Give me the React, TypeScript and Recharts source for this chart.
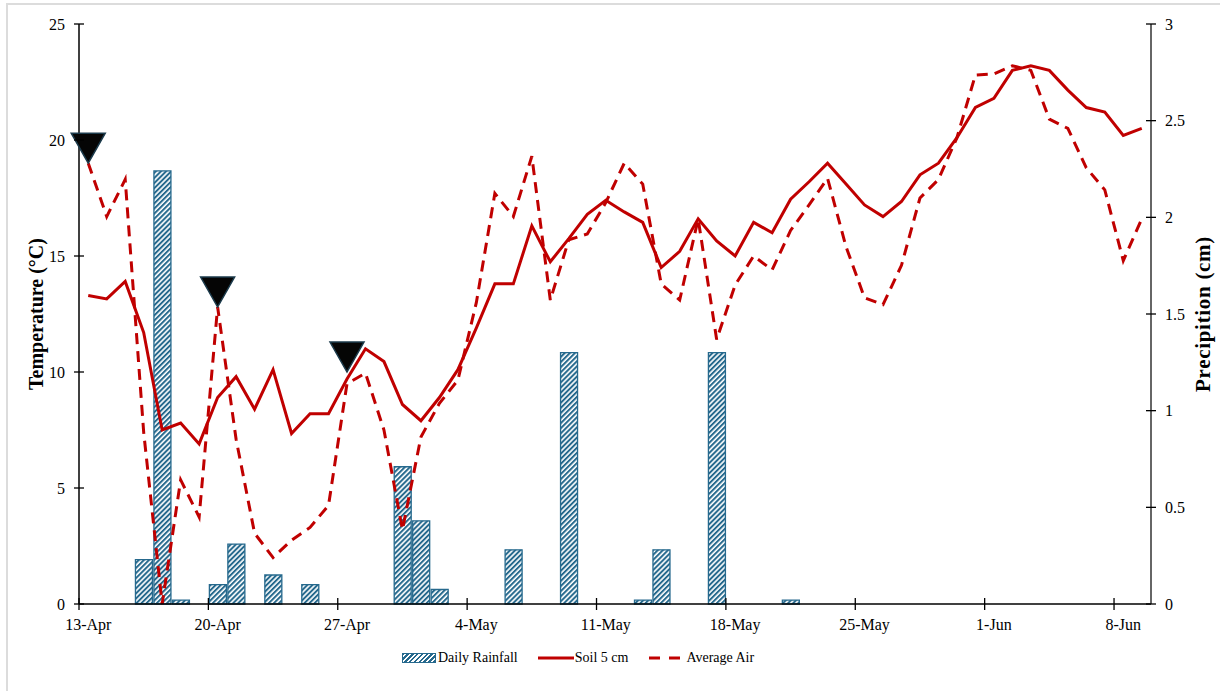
import React from 'react';
import {
    ComposedChart,
    Bar,
    Line,
    Scatter,
    XAxis,
    YAxis,
} from 'recharts';

// 13-Apr .. 9-Jun, one value per day
const soil5cm = [
    13.3, 13.15, 13.9, 11.7, 7.5, 7.8, 6.9, 8.9, 9.8, 8.4,
    10.1, 7.35, 8.2, 8.2, 9.7, 11.0, 10.45, 8.6, 7.9, 8.9,
    10.1, 11.9, 13.8, 13.8, 16.3, 14.75, 15.75, 16.8, 17.4, 16.9,
    16.45, 14.5, 15.2, 16.6, 15.65, 15.0, 16.45, 16.0, 17.45, 18.2,
    19.0, 18.1, 17.2, 16.7, 17.35, 18.5, 19.0, 20.1, 21.4, 21.8,
    23.0, 23.2, 23.0, 22.15, 21.4, 21.2, 20.2, 20.5,
];

const averageAir = [
    19.0, 16.7, 18.3, 7.4, 0.0, 5.35, 3.75, 12.8, 7.1, 3.05,
    2.0, 2.75, 3.3, 4.25, 9.5, 9.95, 7.5, 3.2, 7.2, 8.65,
    9.65, 13.0, 17.7, 16.7, 19.3, 13.1, 15.7, 15.95, 17.3, 19.0,
    18.1, 13.8, 13.1, 16.6, 11.4, 13.75, 15.0, 14.4, 16.1, 17.2,
    18.35, 15.4, 13.2, 12.9, 14.6, 17.5, 18.3, 20.1, 22.8, 22.85,
    23.2, 23.0, 20.9, 20.5, 18.8, 17.85, 14.8, 16.6,
];

const dailyRainfall = [
    0, 0, 0, 0.23, 2.24, 0.02, 0, 0.1, 0.31, 0,
    0.15, 0, 0.1, 0, 0, 0, 0, 0.71, 0.43, 0.075,
    0, 0, 0, 0.28, 0, 0, 1.3, 0, 0, 0,
    0.02, 0.28, 0, 0, 1.3, 0, 0, 0, 0.02, 0,
    0, 0, 0, 0, 0, 0, 0, 0, 0, 0,
    0, 0, 0, 0, 0, 0, 0, 0,
];

// black triangle markers (day index, temperature at the tip)
const markerDays = [0, 7, 14];
const markerTemps = [19.0, 12.8, 10.0];

const dateTicks = [0, 7, 14, 21, 28, 35, 42, 49, 56];
const dateLabels = ['13-Apr', '20-Apr', '27-Apr', '4-May', '11-May', '18-May', '25-May', '1-Jun', '8-Jun'];
const tempTicks = [0, 5, 10, 15, 20, 25];
const rainTicks = [0, 0.5, 1, 1.5, 2, 2.5, 3];

const RED = '#c00000';
const BLUE = '#26698d';
const FONT = '"Liberation Serif", "Times New Roman", serif';

const rows = soil5cm.map((s, i) => ({
    x: i + 0.5,
    soil: s,
    air: averageAir[i],
    rain: dailyRainfall[i] > 0 ? dailyRainfall[i] : null,
}));

const markers = markerDays.map((d, i) => ({ x: d + 0.5, tri: markerTemps[i] }));

const LeftTick = (props: any) => {
    const { x, y, payload } = props;
    return (
        <g>
            <line x1={x - 5} x2={x + 5} y1={y} y2={y} stroke="#000" strokeWidth={1.3} />
            <text x={x - 14} y={y} dy="0.35em" textAnchor="end" fontSize={16} fontFamily={FONT} fill="#000">
                {payload.value}
            </text>
        </g>
    );
};

const RightTick = (props: any) => {
    const { x, y, payload } = props;
    return (
        <g>
            <line x1={x - 5} x2={x + 5} y1={y} y2={y} stroke="#000" strokeWidth={1.3} />
            <text x={x + 14} y={y} dy="0.35em" textAnchor="start" fontSize={16} fontFamily={FONT} fill="#000">
                {payload.value}
            </text>
        </g>
    );
};

const BottomTick = (props: any) => {
    const { x, y, payload } = props;
    const idx = dateTicks.indexOf(payload.value);
    return (
        <g>
            <line x1={x} x2={x} y1={y - 6} y2={y + 6} stroke="#000" strokeWidth={1.3} />
            <text x={x + 9.25} y={y + 26} textAnchor="middle" fontSize={16} fontFamily={FONT} fill="#000">
                {dateLabels[idx]}
            </text>
        </g>
    );
};

const Triangle = (props: any) => {
    const { cx, cy } = props;
    if (cx == null || cy == null) return null;
    return (
        <polygon
            points={`${cx - 17},${cy - 30} ${cx + 17},${cy - 30} ${cx},${cy}`}
            fill="#050505"
            stroke="#1c3b4c"
            strokeWidth={1.5}
        />
    );
};

const axisTitle = (text: string, dx: number, size: number, spacing: number) => (props: any) => {
    const vb = props.viewBox || { x: 0, y: 24, width: 0, height: 580 };
    const cx = vb.x + dx;
    const cy = vb.y + vb.height / 2;
    return (
        <text
            x={cx}
            y={cy}
            transform={`rotate(-90, ${cx}, ${cy})`}
            textAnchor="middle"
            dominantBaseline="central"
            fontSize={size}
            fontWeight="bold"
            letterSpacing={spacing}
            fontFamily={FONT}
            fill="#000"
        >
            {text}
        </text>
    );
};

const Legend = () => (
    <div
        style={{
            position: 'absolute',
            left: 402,
            top: 650,
            display: 'flex',
            alignItems: 'center',
            fontFamily: FONT,
            fontSize: 14,
            color: '#000',
            whiteSpace: 'nowrap',
        }}
    >
        <div
            style={{
                width: 32,
                height: 8,
                border: `1px solid ${BLUE}`,
                background: `repeating-linear-gradient(-45deg, ${BLUE} 0 1.8px, #fff 1.8px 3.4px)`,
            }}
        />
        <span style={{ marginLeft: 2 }}>Daily Rainfall</span>
        <svg width={36} height={10} style={{ marginLeft: 20 }}>
            <line x1={0} x2={36} y1={5} y2={5} stroke={RED} strokeWidth={3} />
        </svg>
        <span style={{ marginLeft: 1 }}>Soil 5 cm</span>
        <svg width={34} height={10} style={{ marginLeft: 20 }}>
            <line x1={1} x2={34} y1={5} y2={5} stroke={RED} strokeWidth={3} strokeDasharray="11 9" />
        </svg>
        <span style={{ marginLeft: 4 }}>Average Air</span>
    </div>
);

export default function App() {
    return (
        <div style={{ position: 'absolute', left: 0, top: 0, width: 1220, height: 691, background: '#fff', overflow: 'hidden' }}>
            {/* frame edges of the cropped figure */}
            <div style={{ position: 'absolute', left: 6, top: 3, width: 1214, height: 2, background: '#dcdcdc' }} />
            <div style={{ position: 'absolute', left: 6, top: 3, width: 2, height: 688, background: '#dcdcdc' }} />

            <div style={{ position: 'absolute', left: 0, top: 0 }}>
                <ComposedChart
                    width={1220}
                    height={691}
                    data={rows}
                    margin={{ top: 24, right: 20, bottom: 57, left: 0 }}
                >
                    <defs>
                        <pattern id="rainHatch" width={3.6} height={3.6} patternUnits="userSpaceOnUse" patternTransform="rotate(45)">
                            <rect width={3.6} height={3.6} fill="#fff" />
                            <rect width={2} height={3.6} fill={BLUE} />
                        </pattern>
                    </defs>
                    <XAxis
                        dataKey="x"
                        type="number"
                        domain={[0, 58]}
                        ticks={dateTicks}
                        interval={0}
                        height={30}
                        tickLine={false}
                        tickSize={0}
                        tickMargin={0}
                        axisLine={{ stroke: '#000', strokeWidth: 1.5 }}
                        tick={<BottomTick />}
                    />
                    <YAxis
                        yAxisId="temp"
                        domain={[0, 25]}
                        ticks={tempTicks}
                        interval={0}
                        width={79}
                        tickLine={false}
                        tickSize={0}
                        tickMargin={0}
                        axisLine={{ stroke: '#000', strokeWidth: 1.5 }}
                        tick={<LeftTick />}
                        label={axisTitle('Temperature (°C)', 36, 20, 0)}
                    />
                    <YAxis
                        yAxisId="rain"
                        orientation="right"
                        domain={[0, 3]}
                        ticks={rainTicks}
                        interval={0}
                        width={49}
                        tickLine={false}
                        tickSize={0}
                        tickMargin={0}
                        axisLine={{ stroke: '#333', strokeWidth: 1.5 }}
                        tick={<RightTick />}
                        label={axisTitle('Precipition (cm)', 52, 21, 0.7)}
                    />
                    <Bar
                        yAxisId="rain"
                        dataKey="rain"
                        barSize={17}
                        fill="url(#rainHatch)"
                        stroke={BLUE}
                        strokeWidth={1.3}
                        isAnimationActive={false}
                    />
                    <Line
                        yAxisId="temp"
                        dataKey="soil"
                        stroke={RED}
                        strokeWidth={3}
                        dot={false}
                        activeDot={false}
                        isAnimationActive={false}
                    />
                    <Line
                        yAxisId="temp"
                        dataKey="air"
                        stroke={RED}
                        strokeWidth={3}
                        strokeDasharray="11 7"
                        dot={false}
                        activeDot={false}
                        isAnimationActive={false}
                    />
                    <Scatter
                        yAxisId="temp"
                        data={markers}
                        dataKey="tri"
                        shape={<Triangle />}
                        isAnimationActive={false}
                    />
                </ComposedChart>
            </div>
            <Legend />
        </div>
    );
}
